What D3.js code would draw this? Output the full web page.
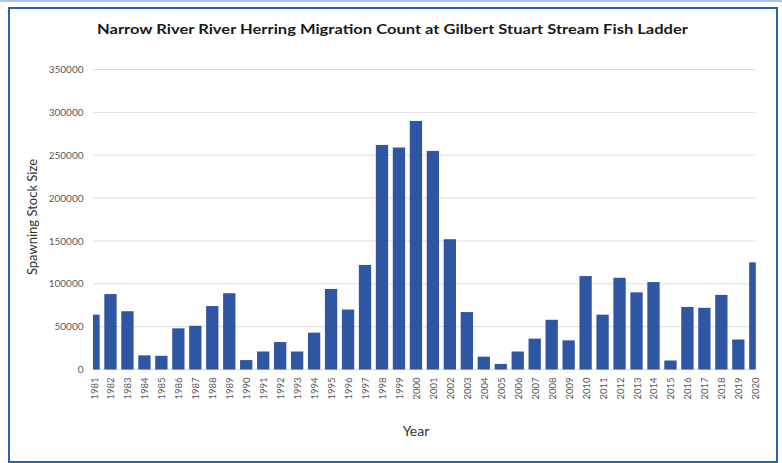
<!DOCTYPE html>
<html>
<head>
<meta charset="utf-8">
<script src="https://cdn.jsdelivr.net/npm/d3@7"></script>
<style>
  html, body { margin: 0; padding: 0; background: #ffffff; }
  svg { display: block; }
</style>
</head>
<body>
<svg id="chart" width="782" height="463"></svg>
<script>
// Yearly river herring counts at the Gilbert Stuart Stream fish ladder
const years = [
  "1981","1982","1983","1984","1985","1986","1987","1988","1989","1990",
  "1991","1992","1993","1994","1995","1996","1997","1998","1999","2000",
  "2001","2002","2003","2004","2005","2006","2007","2008","2009","2010",
  "2011","2012","2013","2014","2015","2016","2017","2018","2019","2020"
];
const counts = [
  64000, 88000, 68000, 16500, 16000, 48000, 51000, 74000, 89000, 11000,
  21000, 32000, 21000, 43000, 94000, 70000, 122000, 262000, 259000, 290000,
  255000, 152000, 67000, 15000, 6500, 21000, 36000, 58000, 34000, 109000,
  64000, 107000, 90000, 102000, 10500, 73000, 72000, 87000, 35000, 125000
];
const yTicks = [0, 50000, 100000, 150000, 200000, 250000, 300000, 350000];

const titleText = "Narrow River River Herring Migration Count at Gilbert Stuart Stream Fish Ladder";
const yTitle = "Spawning Stock Size";
const xTitle = "Year";

const svg = d3.select("#chart");
const W = 782, H = 463;
const plot = { left: 93.5, right: 755.3, top: 69.5, bottom: 369.5 };
const barColor = "#2f56a2";
const textColor = "#595959";
const font = "Lato, 'Open Sans', 'Liberation Sans', sans-serif";

// frame: thin light-blue rule on top, dark blue box around the chart
svg.append("rect").attr("x", 0).attr("y", 0).attr("width", W).attr("height", 2)
  .attr("fill", "#a9c7e0");
svg.append("rect").attr("x", 9).attr("y", 8).attr("width", 768).attr("height", 454)
  .attr("fill", "#ffffff").attr("stroke", "#2a63a6").attr("stroke-width", 2);

const x = d3.scalePoint().domain(years).range([plot.left, plot.right]);
const y = d3.scaleLinear().domain([0, 350000]).range([plot.bottom, plot.top]);
const barW = 12.3;

// gridlines
svg.append("g")
  .selectAll("line").data(yTicks).join("line")
  .attr("x1", plot.left).attr("x2", plot.right)
  .attr("y1", d => y(d)).attr("y2", d => y(d))
  .attr("stroke", "#dcdcdc").attr("stroke-width", 1);

// y axis labels
const yAxis = d3.axisLeft(y).tickValues(yTicks).tickSize(0).tickPadding(10)
  .tickFormat(d3.format("d"));
const gy = svg.append("g").attr("transform", `translate(${plot.left},0)`).call(yAxis);
gy.select(".domain").remove();
gy.selectAll("text").attr("fill", textColor).style("font-family", font)
  .style("font-size", "10px");

// bars, clipped at the first and last category centres
svg.append("clipPath").attr("id", "plotclip")
  .append("rect").attr("x", plot.left - 0.5).attr("y", 0)
  .attr("width", plot.right - plot.left + 1).attr("height", plot.bottom + 1);

svg.append("g").attr("clip-path", "url(#plotclip)")
  .selectAll("rect").data(years).join("rect")
  .attr("x", (d) => x(d) - barW / 2)
  .attr("width", barW)
  .attr("y", (d, i) => y(counts[i]))
  .attr("height", (d, i) => y(0) - y(counts[i]))
  .attr("fill", barColor);

// x axis labels, rotated
const xAxis = d3.axisBottom(x).tickSize(0).tickPadding(0);
const gx = svg.append("g").attr("transform", `translate(0,${plot.bottom})`).call(xAxis);
gx.select(".domain").remove();
gx.selectAll("text")
  .attr("fill", textColor).style("font-family", font).style("font-size", "9.5px")
  .attr("text-anchor", "end")
  .attr("dy", null)
  .attr("transform", "translate(3.5,8) rotate(-90)")
  .attr("y", 0).attr("x", 0);

// titles
svg.append("text")
  .attr("x", 392.5).attr("y", 33.5).attr("text-anchor", "middle")
  .attr("fill", "#1a1a1a").style("font-family", font).style("font-weight", "bold")
  .style("font-size", "14px")
  .attr("textLength", 591).attr("lengthAdjust", "spacingAndGlyphs")
  .text(titleText);

svg.append("text")
  .attr("transform", "translate(37,217) rotate(-90)")
  .attr("text-anchor", "middle").attr("fill", "#333333")
  .style("font-family", font).style("font-size", "13px")
  .text(yTitle);

svg.append("text")
  .attr("x", 416).attr("y", 436).attr("text-anchor", "middle")
  .attr("fill", "#333333").style("font-family", font).style("font-size", "14px")
  .text(xTitle);
</script>
</body>
</html>
